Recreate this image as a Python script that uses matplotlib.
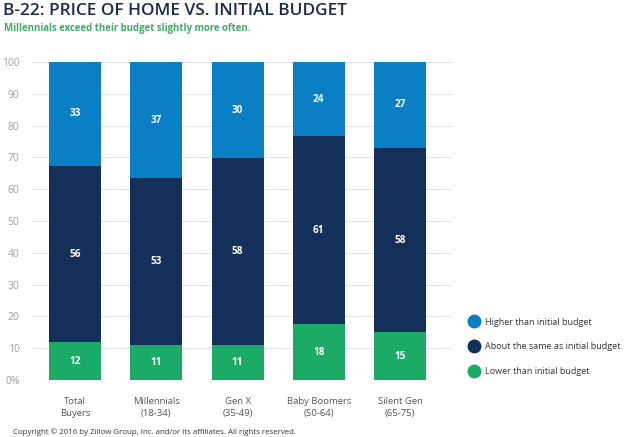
import matplotlib
matplotlib.use("Agg")
import matplotlib.pyplot as plt
from matplotlib.lines import Line2D

categories = ["Total\nBuyers", "Millennials\n(18-34)", "Gen X\n(35-49)", "Baby Boomers\n(50-64)", "Silent Gen\n(65-75)"]
lower = [12, 11, 11, 18, 15]
same = [56, 53, 58, 61, 58]
higher = [33, 37, 30, 24, 27]
series_names = ["Higher than initial budget", "About the same as initial budget", "Lower than initial budget"]
yticks = [0, 10, 20, 30, 40, 50, 60, 70, 80, 90, 100]
ytick_labels = ["0%", "10", "20", "30", "40", "50", "60", "70", "80", "90", "100"]

c_high = "#0b7fc4"
c_same = "#14305a"
c_low = "#1bab66"

plt.rcParams['font.family'] = ['Open Sans', 'DejaVu Sans']

W, H = 630, 437
fig = plt.figure(figsize=(6.3, 4.37), dpi=100)
ax = fig.add_axes([32 / W, 1 - 380 / H, 420 / W, 318 / H])

# bars are shown normalised to 100%
tot = [a + b + c for a, b, c in zip(lower, same, higher)]
low_n = [v * 100 / t for v, t in zip(lower, tot)]
same_n = [v * 100 / t for v, t in zip(same, tot)]
high_n = [v * 100 / t for v, t in zip(higher, tot)]

x = list(range(len(categories)))
bw = 0.64
ax.bar(x, low_n, bw, color=c_low, zorder=3)
b2 = low_n
ax.bar(x, same_n, bw, bottom=b2, color=c_same, zorder=3)
b3 = [a + b for a, b in zip(low_n, same_n)]
ax.bar(x, high_n, bw, bottom=b3, color=c_high, zorder=3)

kw = dict(ha="center", va="center", color="white", fontsize=7.2, fontweight="bold", zorder=4)
for i in x:
    ax.text(i, low_n[i] / 2, str(lower[i]), **kw)
    ax.text(i, b2[i] + same_n[i] / 2, str(same[i]), **kw)
    ax.text(i, b3[i] + high_n[i] / 2, str(higher[i]), **kw)

ax.set_xlim(-0.53, 4.64)
ax.set_ylim(0, 100)
ax.set_yticks(yticks)
ax.set_yticklabels(ytick_labels, color="#a0a0a0", fontsize=7.5)
ax.yaxis.grid(True, color="#e3e3e3", linewidth=0.8, zorder=0)
ax.tick_params(axis="y", length=0, pad=9)
ax.set_xticks(x)
ax.set_xticklabels(categories, fontsize=6.8, color="#555555", linespacing=1.45)
ax.tick_params(axis="x", length=0, pad=12)
for s in ax.spines.values():
    s.set_visible(False)

fig.text(3 / W, 1 - 11 / H, "B-22: PRICE OF HOME VS. INITIAL BUDGET", fontsize=12.4, color="#1b2b4b", va="center", ha="left", fontweight="semibold")
fig.text(4 / W, 1 - 29 / H, "Millennials exceed their budget slightly more often.", fontsize=6.95, color="#3dae62", va="center", ha="left", fontweight="bold")
fig.text(13 / W, 1 - 432 / H, "Copyright \u00a9 2016 by Zillow Group, Inc. and/or its affiliates. All rights reserved.", fontsize=5.7, color="#333333", va="center", ha="left")

handles = [Line2D([0], [0], marker="o", linestyle="", markersize=9, markerfacecolor=c, markeredgecolor=c) for c in (c_high, c_same, c_low)]
fig.legend(handles, series_names, loc="upper left", bbox_to_anchor=(461 / W, 1 - 314 / H), frameon=False, fontsize=6.5,
           labelspacing=1.75, handletextpad=0.3, labelcolor="#333333", borderaxespad=0)

fig.savefig("out.png", dpi=100)
